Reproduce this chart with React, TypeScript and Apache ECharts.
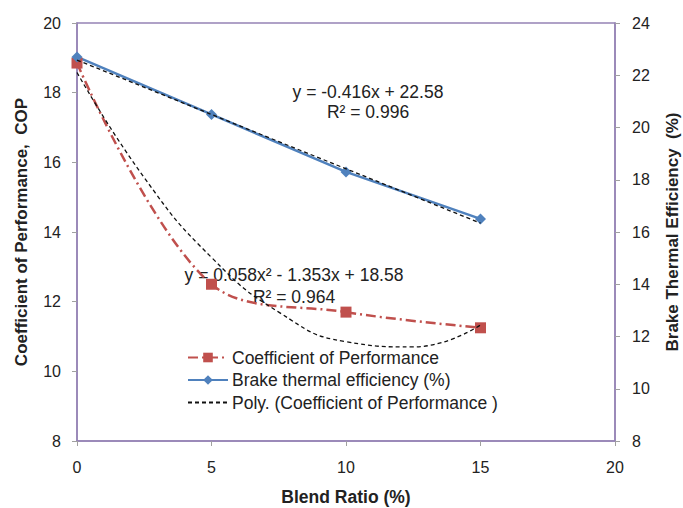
import React, { useEffect, useRef } from "react";
import * as echarts from "echarts";

const blendRatio = [0, 5, 10, 15];
const copValues = [18.85, 12.5, 11.7, 11.25];
const bteValues = [22.7, 20.5, 18.3, 16.5];
// trendline points
const polyX = [0, 2.5, 5, 7.5, 10, 12.5, 15];
const polyY = [18.58, 15.56, 13.27, 11.7, 10.85, 10.7, 11.33];
const linX = [0, 15];
const linY = [22.58, 16.34];

const seriesNames = [
  "Coefficient of Performance",
  "Brake thermal efficiency (%)",
  "Poly. (Coefficient of Performance )",
];

const FONT = "Liberation Sans, Arial, sans-serif";
const AXIS_COLOR = "#9583b5";
const TICK_COLOR = "#a0a0a0";

export default function App() {
  const ref = useRef<HTMLDivElement>(null);
  useEffect(() => {
    document.body.style.margin = "0";
    if (!ref.current) return;
    const chart = echarts.init(ref.current, null, { renderer: "svg" });
    const pair = (xs: number[], ys: number[]) => xs.map((x, i) => [x, ys[i]]);
    const annot = (text: string, x: number, y: number) => ({
      type: "text",
      x,
      y,
      style: {
        text,
        fontFamily: FONT,
        fontSize: 17.5,
        fill: "#222",
        align: "center",
        verticalAlign: "middle",
      },
    });
    chart.setOption({
      animation: false,
      backgroundColor: "#fff",
      textStyle: { fontFamily: FONT },
      grid: {
        left: 77,
        right: 68,
        top: 23,
        bottom: 67,
        show: true,
        borderColor: AXIS_COLOR,
        borderWidth: 1.5,
        containLabel: false,
        outerBoundsMode: "none",
      },
      legend: {
        orient: "vertical",
        left: 182,
        top: 342,
        itemGap: 1.5,
        itemWidth: 40,
        itemHeight: 12,
        data: [
          { name: seriesNames[0] },
          { name: seriesNames[1] },
          { name: seriesNames[2], itemStyle: { color: "transparent", borderColor: "transparent", opacity: 0 } },
        ],
        textStyle: { fontFamily: FONT, fontSize: 17.5, lineHeight: 21, color: "#222", padding: [0, 0, 0, -1] },
      },
      xAxis: {
        type: "value",
        min: 0,
        max: 20,
        interval: 5,
        name: "Blend Ratio (%)",
        nameLocation: "middle",
        nameGap: 47,
        nameTextStyle: { fontFamily: FONT, fontSize: 17.5, fontWeight: "bold", color: "#222" },
        axisLine: { lineStyle: { color: AXIS_COLOR, width: 1.5 } },
        axisTick: { show: true, length: 5, lineStyle: { color: TICK_COLOR } },
        axisLabel: { fontFamily: FONT, fontSize: 16, color: "#222", margin: 18 },
        splitLine: { show: false },
      },
      yAxis: [
        {
          type: "value",
          min: 8,
          max: 20,
          interval: 2,
          position: "left",
          name: "Coefficient of Performance,  COP",
          nameLocation: "middle",
          nameRotate: 90,
          nameGap: 47,
          nameTextStyle: { fontFamily: FONT, fontSize: 17, fontWeight: "bold", color: "#222" },
          axisLine: { show: true, lineStyle: { color: AXIS_COLOR, width: 1.5 } },
          axisTick: { show: true, length: 5, lineStyle: { color: TICK_COLOR } },
          axisLabel: { fontFamily: FONT, fontSize: 16, color: "#222", margin: 16 },
          splitLine: { show: false },
        },
        {
          type: "value",
          min: 8,
          max: 24,
          interval: 2,
          position: "right",
          name: "Brake Thermal Efficiency  (%)",
          nameLocation: "middle",
          nameRotate: 90,
          nameGap: 49,
          nameTextStyle: { fontFamily: FONT, fontSize: 17, fontWeight: "bold", color: "#222" },
          axisLine: { show: true, lineStyle: { color: AXIS_COLOR, width: 1.5 } },
          axisTick: { show: true, length: 5, lineStyle: { color: TICK_COLOR } },
          axisLabel: { fontFamily: FONT, fontSize: 16, color: "#222", margin: 17 },
          splitLine: { show: false },
        },
      ],
      series: [
        {
          name: seriesNames[0],
          type: "line",
          yAxisIndex: 0,
          data: pair(blendRatio, copValues),
          smooth: 0.35,
          symbol: "rect",
          symbolSize: 11,
          itemStyle: { color: "#c0504d" },
          lineStyle: { color: "#c0504d", width: 2.5, type: [10, 4, 2, 4] },
          z: 3,
        },
        {
          name: seriesNames[1],
          type: "line",
          yAxisIndex: 1,
          data: pair(blendRatio, bteValues),
          symbol: "diamond",
          symbolSize: 11,
          itemStyle: { color: "#4f81bd" },
          lineStyle: { color: "#4f81bd", width: 2.5 },
          z: 3,
        },
        {
          name: seriesNames[2],
          type: "line",
          yAxisIndex: 0,
          data: pair(polyX, polyY),
          smooth: true,
          symbol: "none",
          itemStyle: { color: "#111" },
          lineStyle: { color: "#111", width: 1.3, type: [4, 3] },
          z: 4,
        },
        {
          name: "Linear (Brake thermal efficiency (%))",
          type: "line",
          yAxisIndex: 1,
          data: pair(linX, linY),
          symbol: "none",
          lineStyle: { color: "#111", width: 1.3, type: [4, 3] },
          z: 4,
        },
      ],
      graphic: [
        annot("y = -0.416x + 22.58", 368, 92),
        annot("R² = 0.996", 368, 112),
        annot("y = 0.058x² - 1.353x + 18.58", 294, 275),
        annot("R² = 0.964", 294, 297),
      ],
    });
    return () => chart.dispose();
  }, []);
  return <div ref={ref} style={{ width: 683, height: 508 }} />;
}
